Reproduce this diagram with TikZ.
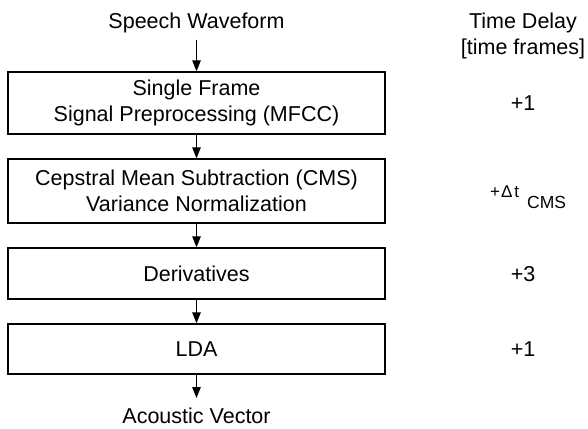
\documentclass[tikz,border=0pt]{standalone}
\usepackage{fontspec}
\setmainfont{Liberation Sans}
\usetikzlibrary{arrows.meta}
\begin{document}
\begin{tikzpicture}[x=1pt,y=-1pt,
  every node/.style={font=\fontsize{21.5}{26}\selectfont},
  stagebox/.style={draw, line width=1.4pt, minimum width=377pt, inner sep=0pt, align=center},
  arr/.style={line width=1.3pt, -{Triangle[length=11pt,width=8.5pt]}},
  delaytext/.style={inner sep=0pt}]
\useasboundingbox (0,0) rectangle (588,428);
\node[stagebox, minimum height=62pt] (b1) at (196.5,103) {Single Frame\\Signal Preprocessing (MFCC)};
\node[stagebox, minimum height=64pt] (b2) at (196.5,191) {Cepstral Mean Subtraction (CMS)\\Variance Normalization};
\node[stagebox, minimum height=51pt] (b3) at (196.5,273.5) {Derivatives};
\node[stagebox, minimum height=50pt] (b4) at (196.5,349) {LDA};
\node[anchor=south, inner xsep=0pt, inner ysep=6.5pt] (sw) at (196.5,40) {Speech Waveform};
\node[anchor=north, inner xsep=0pt, inner ysep=9.5pt] (av) at (196.5,398) {Acoustic Vector};
\draw[arr] (sw.south) -- (b1.north);
\draw[arr] (b1.south) -- (b2.north);
\draw[arr] (b2.south) -- (b3.north);
\draw[arr] (b3.south) -- (b4.north);
\draw[arr] (b4.south) -- (av.north);
\node[delaytext, anchor=base] (td1) at (523,29) {Time Delay};
\node[delaytext, anchor=base] (td2) at (523,55) {[time frames]};
\node[delaytext] (d1) at (523,103) {+1};
\node[delaytext, anchor=base west, font=\fontsize{17}{20}\selectfont] (dt) at (490,197) {+\kern1ptΔ\kern2pt t};
\node[delaytext, anchor=base west, font=\fontsize{17.5}{20}\selectfont] (cms) at (527,208) {CMS};
\node[delaytext] (d3) at (523,274) {+3};
\node[delaytext] (d4) at (523,349) {+1};
\end{tikzpicture}
\end{document}
